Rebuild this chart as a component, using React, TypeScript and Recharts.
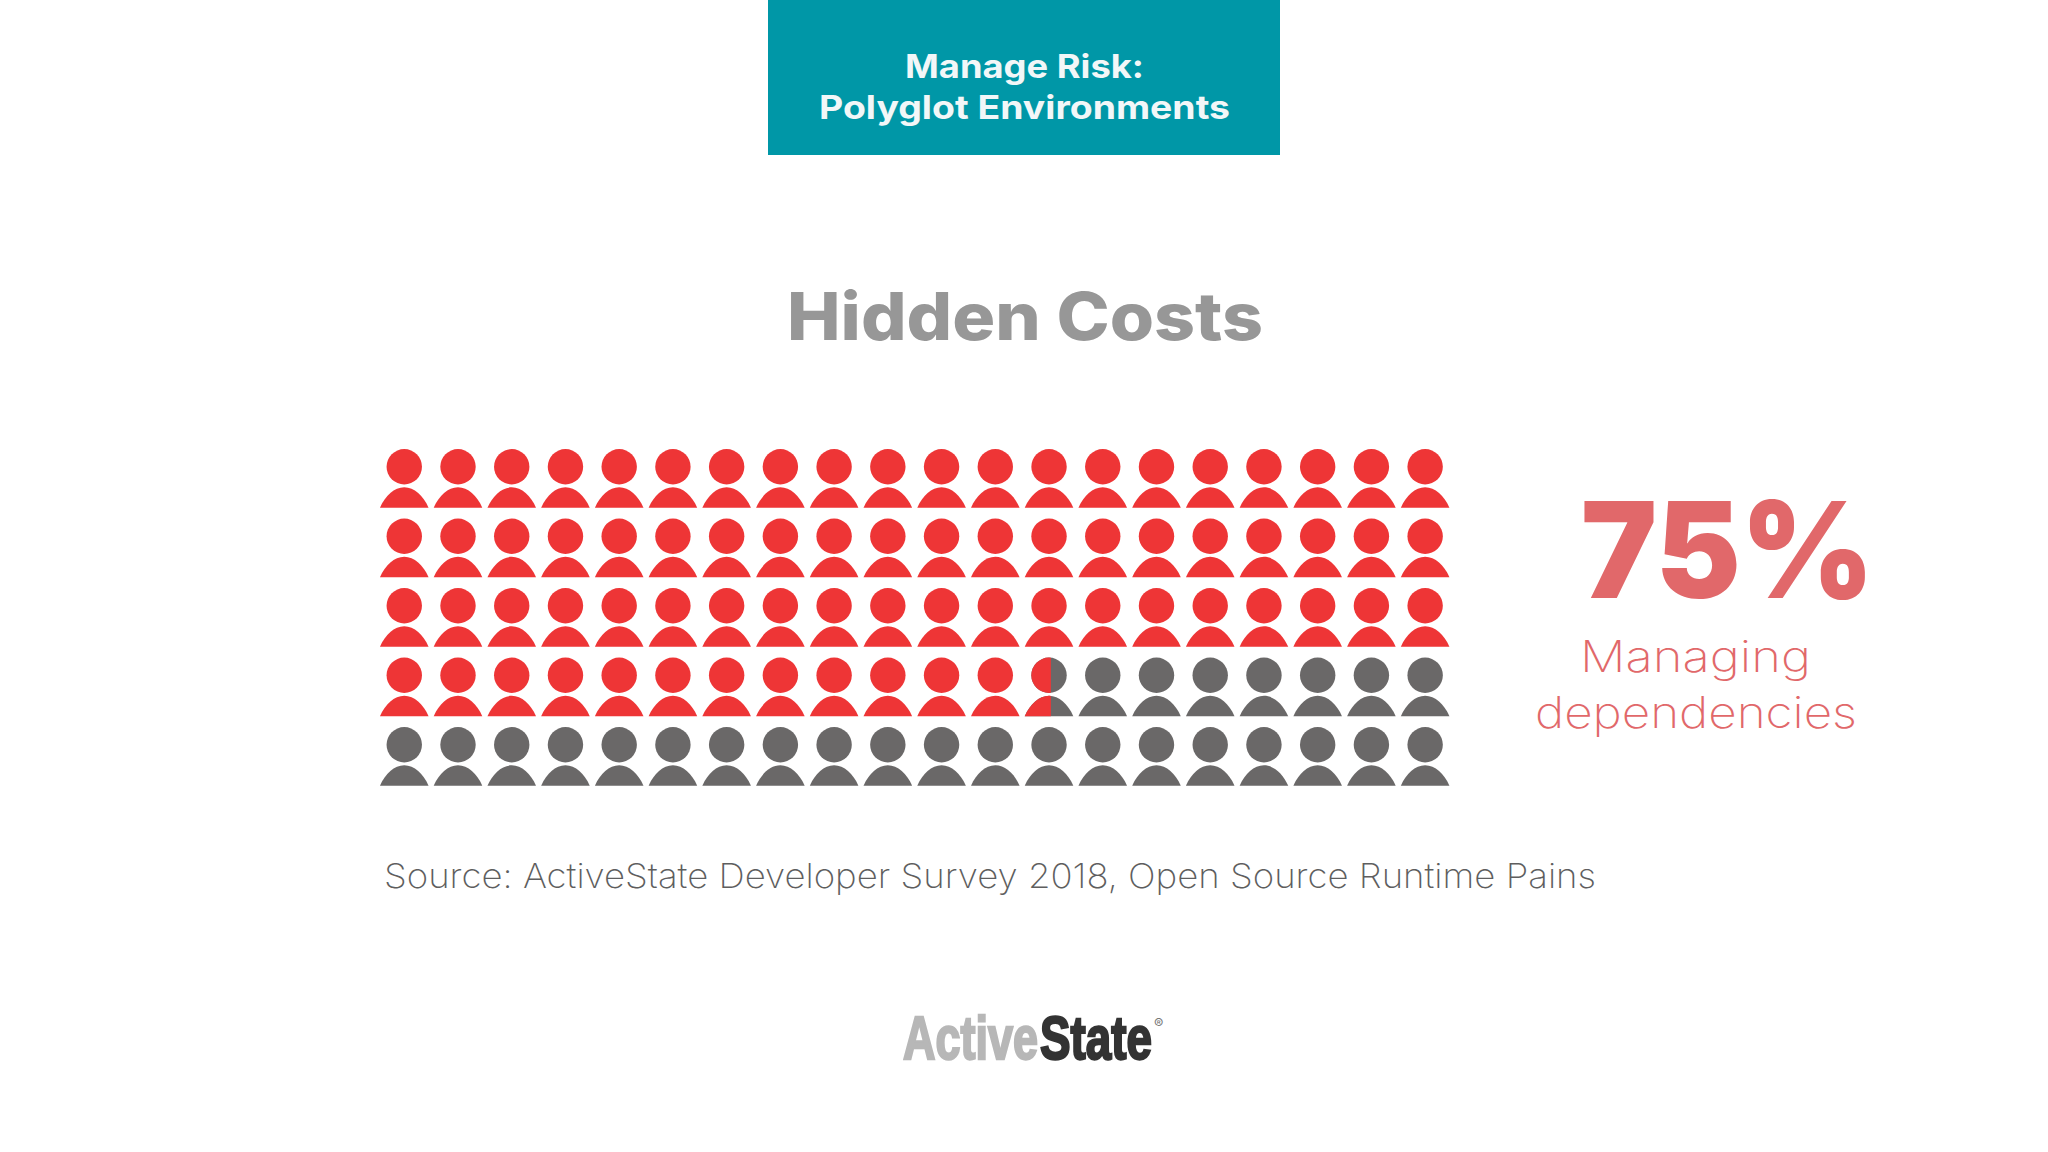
import { ScatterChart, Scatter, XAxis, YAxis } from 'recharts'

const WIDTH = 2048
const HEIGHT = 1152

const columns = [1, 2, 3, 4, 5, 6, 7, 8, 9, 10, 11, 12, 13, 14, 15, 16, 17, 18, 19, 20]
const rows = [1, 2, 3, 4, 5]
// how many people in each row are coloured in, the 13th of row 4 only partly
const filledPerRow = [20, 20, 20, 12.54, 0]

const headerLines = ['Manage Risk:', 'Polyglot Environments']
const chartTitle = 'Hidden Costs'
const sourceNote = 'Source: ActiveState Developer Survey 2018, Open Source Runtime Pains'
const statValue = '75%'
const statLabel = ['Managing', 'dependencies']

const RED = '#EE3536'
const GREY = '#6A6868'
const STAT = '#E1686A'
const CELL_W = 53.73

const people = rows.flatMap((row, r) =>
  columns.map((column, c) => ({
    row,
    column,
    filled: Math.max(0, Math.min(1, filledPerRow[r] - c)),
  })),
)

function PersonShape({ cx, cy, fill }: { cx: number; cy: number; fill: string }) {
  return (
    <g transform={`translate(${cx},${cy})`} fill={fill}>
      <circle r={17.7} />
      <path d="M-24.3 41 C-19 29 -10 20.6 0 20.6 C10 20.6 19 29 24.3 41 Z" />
    </g>
  )
}

function Person(props: any) {
  const { cx, cy, payload } = props
  const id = `clip-${payload.row}-${payload.column}`
  return (
    <g>
      {payload.filled < 1 && <PersonShape cx={cx + 0.3} cy={cy} fill={GREY} />}
      {payload.filled > 0 && (
        <>
          <clipPath id={id}>
            <rect x={cx - CELL_W / 2} y={cy - 30} width={CELL_W * payload.filled} height={80} />
          </clipPath>
          <g clipPath={`url(#${id})`}>
            <PersonShape cx={cx + 0.3} cy={cy} fill={RED} />
          </g>
        </>
      )}
    </g>
  )
}

type LabelProps = {
  x: number
  y: number
  length: number
  size: number
  weight: number
  fill: string
  children: string
}

// fonts differ from the original, so every text is fitted to its measured width
function Label({ x, y, length, size, weight, fill, children }: LabelProps) {
  return (
    <text
      x={x}
      y={y}
      textLength={length}
      lengthAdjust="spacingAndGlyphs"
      fontFamily="Inter, sans-serif"
      fontSize={size}
      fontWeight={weight}
      fill={fill}
    >
      {children}
    </text>
  )
}

export default function App() {
  return (
    <div style={{ position: 'absolute', left: 0, top: 0, width: WIDTH, height: HEIGHT, background: '#fff', overflow: 'hidden' }}>
      <div style={{ position: 'absolute', left: 768, top: 0, width: 512, height: 155, background: '#0097A7' }} />
      <svg width={WIDTH} height={HEIGHT} style={{ position: 'absolute', left: 0, top: 0 }}>
        <Label x={905} y={78} length={239} size={32.5} weight={700} fill="#F2F7F8">{headerLines[0]}</Label>
        <Label x={819} y={119} length={411} size={32.5} weight={700} fill="#F2F7F8">{headerLines[1]}</Label>
        <Label x={787} y={340} length={476} size={66} weight={800} fill="#979797">{chartTitle}</Label>
        <Label x={384} y={888} length={1212} size={34} weight={200} fill="#5E5E5E">{sourceNote}</Label>
        <Label x={1581} y={598} length={293} size={134} weight={900} fill={STAT}>{statValue}</Label>
        <Label x={1580} y={672} length={231} size={43} weight={200} fill={STAT}>{statLabel[0]}</Label>
        <Label x={1535} y={728} length={322} size={43} weight={200} fill={STAT}>{statLabel[1]}</Label>
        <g fontFamily="'Liberation Sans Narrow', 'Liberation Sans', sans-serif" fontWeight={700} fontSize={61}>
          <text x={903} y={1059} textLength={135} lengthAdjust="spacingAndGlyphs" fill="#B7B7B7" stroke="#B7B7B7" strokeWidth={2.4}>Active</text>
          <text x={1040} y={1059} textLength={112} lengthAdjust="spacingAndGlyphs" fill="#333333" stroke="#333333" strokeWidth={2.4}>State</text>
        </g>
        <text x={1154} y={1029} fontFamily="Inter, sans-serif" fontSize={14} fill="#777777">®</text>
      </svg>
      <div style={{ position: 'absolute', left: 0, top: 0 }}>
        <ScatterChart
          width={WIDTH}
          height={HEIGHT}
          margin={{ top: 432, left: 377.1, right: WIDTH - 377.1 - 1074.6, bottom: HEIGHT - 432 - 347.5 }}
        >
          <XAxis type="number" dataKey="column" domain={[0.5, 20.5]} hide />
          <YAxis type="number" dataKey="row" domain={[0.5, 5.5]} reversed hide />
          <Scatter data={people} shape={Person} isAnimationActive={false} />
        </ScatterChart>
      </div>
    </div>
  )
}
